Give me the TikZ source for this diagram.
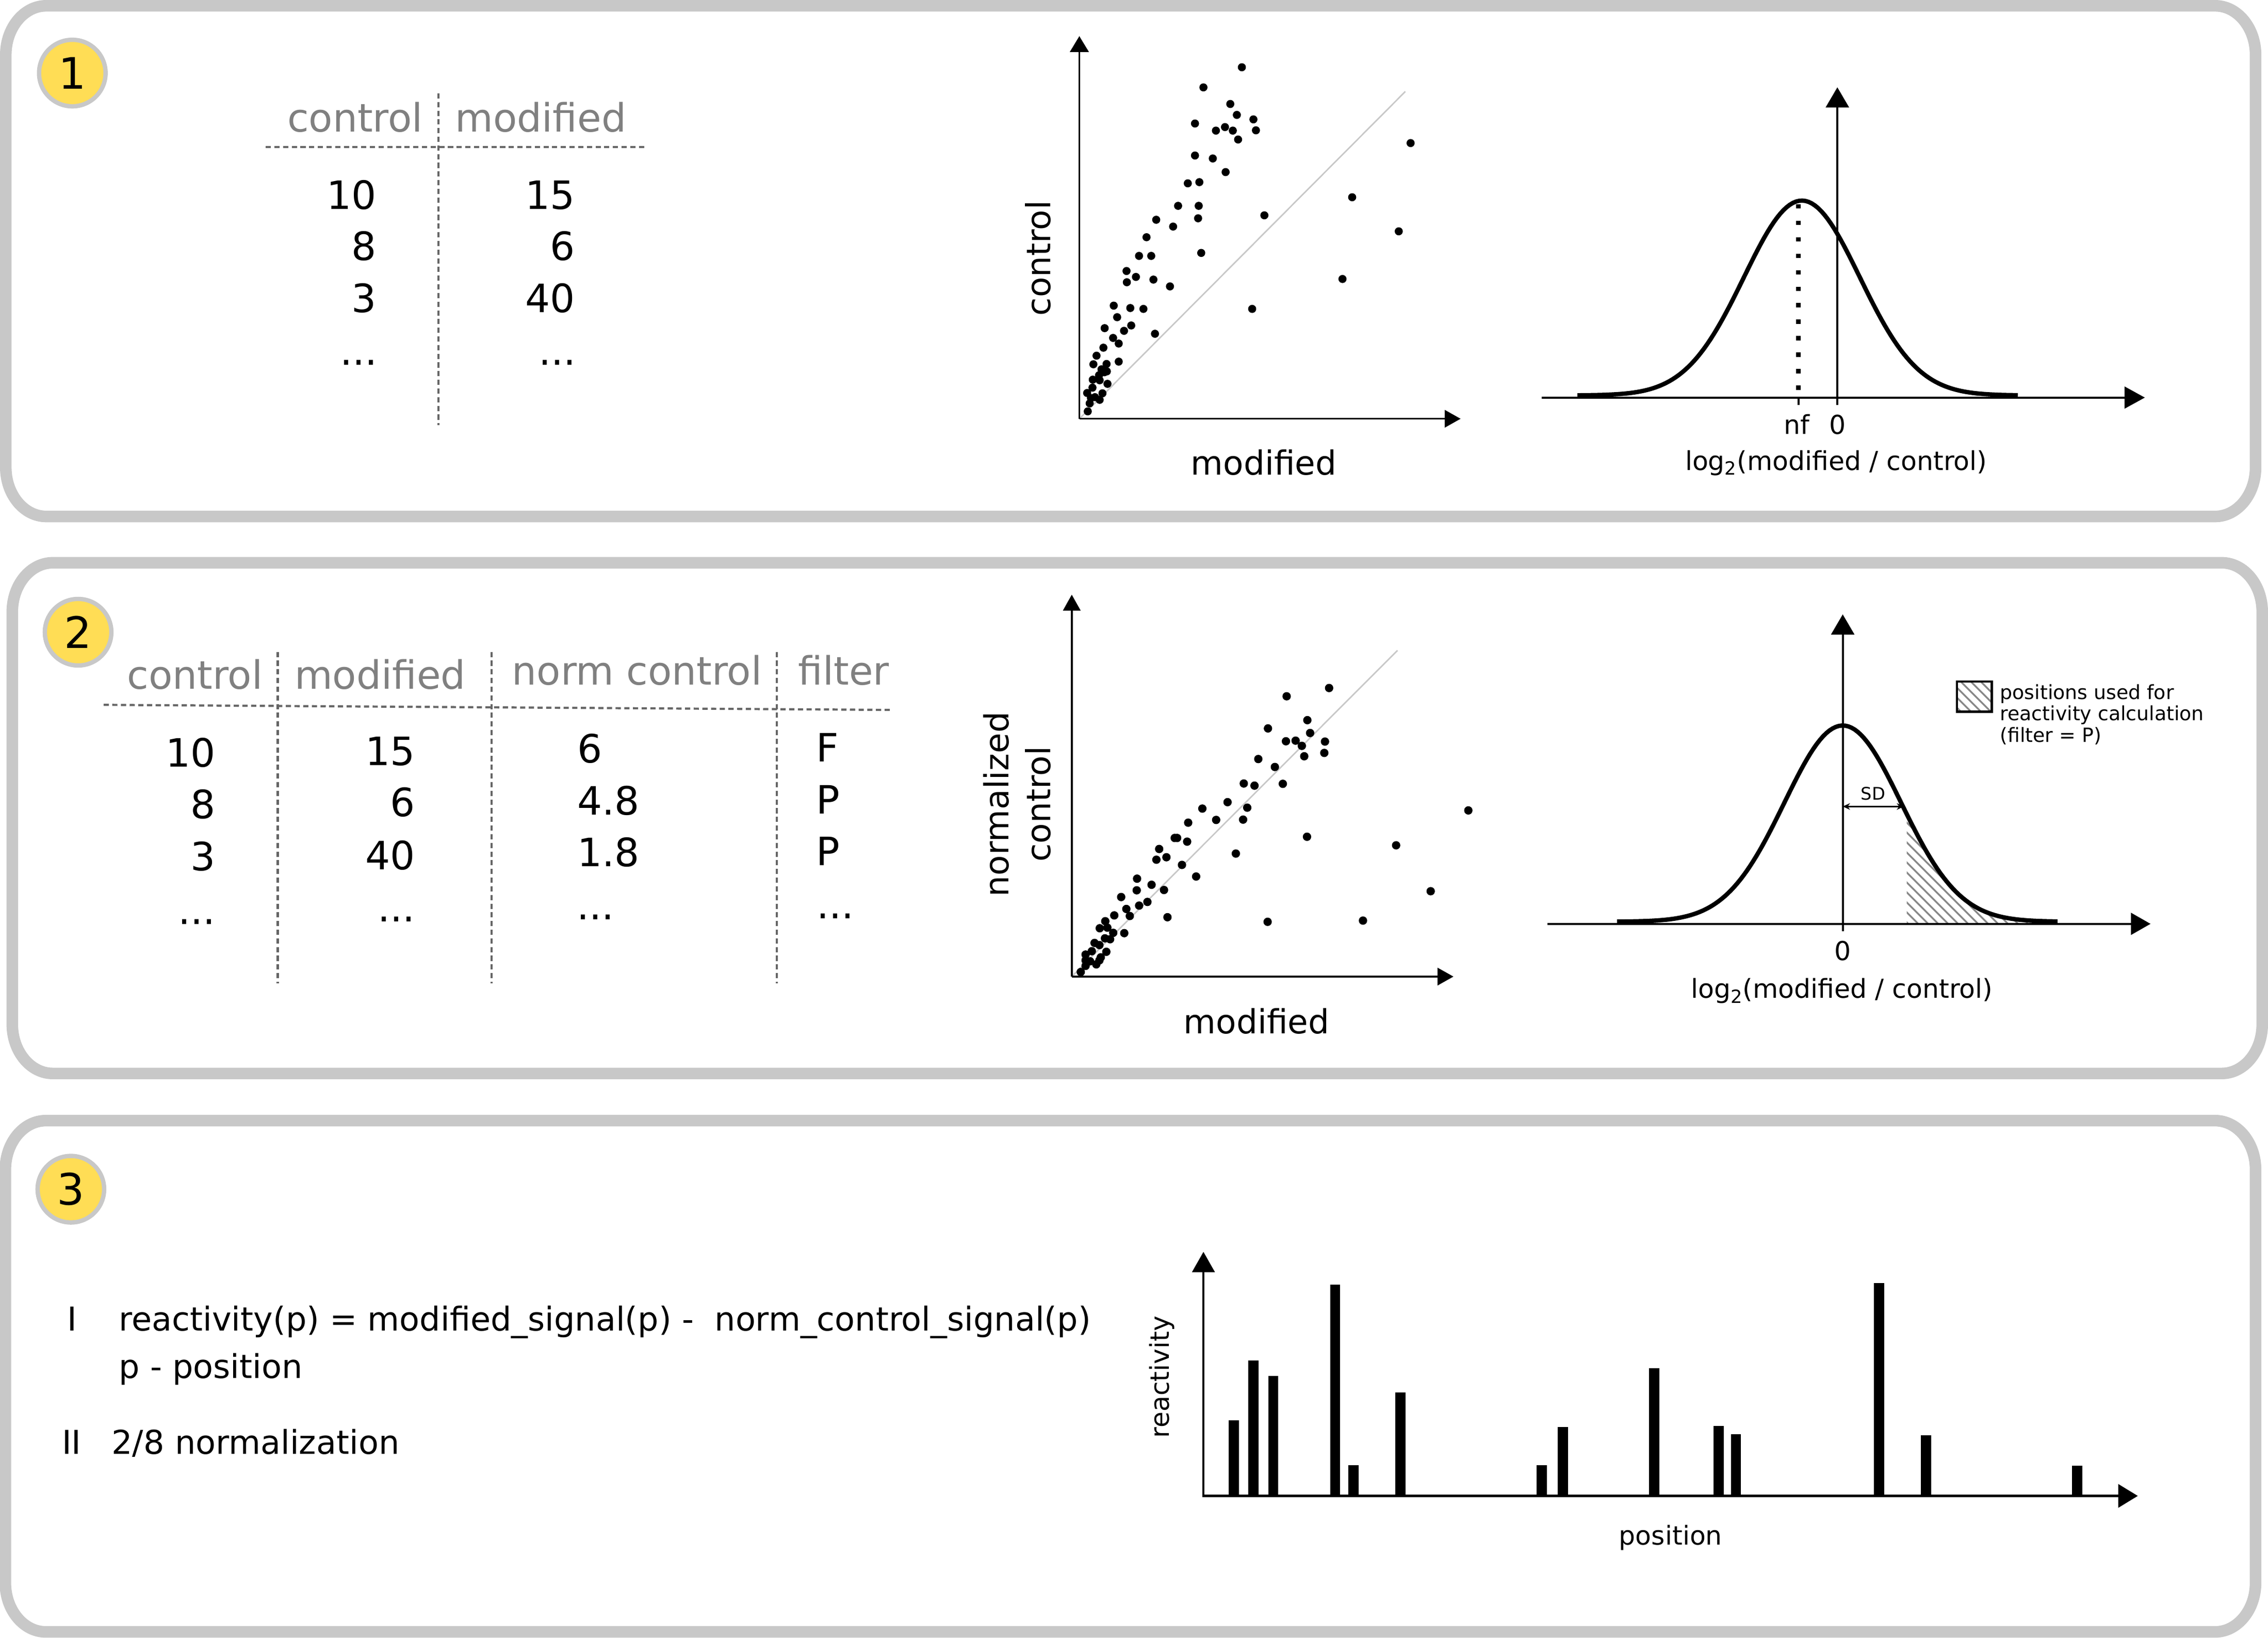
\documentclass[tikz,border=0pt]{standalone}
\usepackage{fontspec}
\setmainfont{DejaVu Sans}
\usetikzlibrary{arrows.meta}
\definecolor{panelgray}{HTML}{C8C8C8}
\definecolor{badgeyellow}{HTML}{FFDD55}
\definecolor{headgray}{HTML}{808080}
\definecolor{rulegray}{HTML}{666666}
\definecolor{hatchgray}{HTML}{888888}
\newcommand\fz[1]{\fontsize{#1pt}{#1pt}\selectfont}
\newcommand\panelbox[4]{%
  \draw[panel] (#1+28,#2) -- (#3-28,#2) arc[start angle=90,end angle=0,x radius=28pt,y radius=34pt]
   -- (#3,#4-34) arc[start angle=0,end angle=-90,x radius=28pt,y radius=34pt]
   -- (#1+28,#4) arc[start angle=-90,end angle=-180,x radius=28pt,y radius=34pt]
   -- (#1,#2+34) arc[start angle=180,end angle=90,x radius=28pt,y radius=34pt] -- cycle;}
\tikzset{
  panel/.style={draw=panelgray, line width=8pt},
  badge/.style={circle, draw=panelgray, line width=3pt, fill=badgeyellow, minimum size=46pt, inner sep=0pt, font={\fz{30}}},
  hdr/.style={text=headgray, font={\fz{27}}, inner sep=0pt},
  num/.style={font={\fz{27}}, inner sep=0pt},
  tabrule/.style={draw=rulegray, line width=1.5pt, dash pattern=on 3.6pt off 2.4pt},
  axisline/.style={line width=1.2pt},
  diag/.style={draw=panelgray, line width=1pt},
  curve/.style={line width=3pt},
  hatch/.style={draw=hatchgray, line width=1.2pt},
  lab/.style={font={\fz{23}}, inner sep=0pt},
  glab/.style={font={\fz{18}}, inner sep=0pt},
  leg/.style={font={\fz{13.5}}, inner sep=0pt, anchor=base west},
  txt/.style={font={\fz{22.7}}, inner sep=0pt},
}
\begin{document}
\begin{tikzpicture}[x=1pt,y=-1pt]
\useasboundingbox (0,0) rectangle (1568,1132);
\fill[white] (0,0) rectangle (1568,1132);

% ---------- panels ----------
\panelbox{4}{4}{1559.4}{357}
\panelbox{8.5}{389}{1564}{742}
\panelbox{3.7}{774.6}{1559.4}{1128}

% ---------- badges ----------
\node[badge] (b1) at (50,50.5) {1};
\node[badge] (b2) at (54,437) {2};
\node[badge] (b3) at (49,822) {3};

% ---------- panel 1 table ----------
\node[hdr, anchor=base west] (t1hc) at (198.5,91) {control};
\node[hdr, anchor=base west] (t1hm) at (314.6,91) {modified};
\draw[tabrule] (183.7,101.6) -- (447,101.6);
\draw[tabrule] (303,64.5) -- (303,294);
\node[num, anchor=base east] (t1c1) at (260.4,144.7) {10};
\node[num, anchor=base east] (t1c2) at (260.4,180) {8};
\node[num, anchor=base east] (t1c3) at (260.4,215.9) {3};
\node[num, anchor=base east] (t1c4) at (261,252.3) {...};
\node[num, anchor=base east] (t1m1) at (397.8,144.7) {15};
\node[num, anchor=base east] (t1m2) at (397.8,180) {6};
\node[num, anchor=base east] (t1m3) at (397.8,215.9) {40};
\node[num, anchor=base east] (t1m4) at (398.5,252.3) {...};

% ---------- panel 1 scatter ----------
\begin{scope}[xshift=695.43pt, yshift=-17.83pt, x=0.21607pt, y=-0.2047pt]
  \draw[diag] (235,1327) -- (1278,222);
  \draw[axisline, -{Triangle[length=11pt,width=13pt]}] (235,1327) -- (235,35);
  \draw[axisline, -{Triangle[length=11pt,width=12pt]}] (235,1327) -- (1455,1327);
  \foreach \px/\py in {755/140, 632/208, 718/264, 739/301, 792/316, 605/330, 701/342, 726/354, 672/354, 800/353, 743/384, 1295/396, 605/438, 662/448, 703/494, 582/532, 619/528, 551/608, 617/608, 1108/579, 827/640, 481/655, 615/650, 535/678, 1257/694, 450/714, 426/777, 465/777, 625/767, 386/828, 416/848, 472/857, 387/866, 525/880, 1077/855, 345/945, 398/953, 440/956, 788/956, 356/984, 316/1021, 401/1012, 378/1030, 477/1040, 343/1054, 361/1073, 312/1087, 290/1114, 361/1134, 280/1143, 322/1142, 306/1160, 323/1167, 278/1195, 300/1197, 325/1209, 277/1222, 309/1241, 260/1240, 300/1263, 272/1257, 268/1275, 262/1302, 285/1254, 298/1180, 315/1170}
    \fill (\px,\py) circle[radius=2.8pt];
\end{scope}
\node[lab, rotate=90, anchor=base] (s1y) at (726.1,178.5) {control};
\node[lab, anchor=base] (s1x) at (873.7,328.4) {modified};

% ---------- panel 1 gaussian ----------
\begin{scope}[xshift=1052.07pt, yshift=-46.36pt, x=0.29566pt, y=-0.1865pt]
  \draw[curve] plot[domain=130:1160, samples=140] (\x, {1217-722*exp(-((\x-655)/135.5)^2/2)});
  \draw[line width=3pt, dash pattern=on 3pt off 8.4pt] (647,508) -- (647,1225);
  \draw[line width=1.4pt] (647,1225) -- (647,1253);
  \draw[line width=1.4pt, -{Triangle[length=14pt,width=15pt]}] (47,1225) -- (1457,1225);
  \draw[line width=1.4pt, -{Triangle[length=14pt,width=16pt]}] (738,1252) -- (738,75);
  \node[glab, anchor=base] (g1nf) at (643,1360) {nf};
  \node[glab, anchor=base] (g1z) at (738,1360) {0};
  \node[glab, anchor=base] (g1x) at (735,1494) {log\textsubscript{2}(modified / control)};
\end{scope}

% ---------- panel 2 table ----------
\node[hdr, anchor=base west] (t2h1) at (87.8,476.1) {control};
\node[hdr, anchor=base west] (t2h2) at (203.5,476.1) {modified};
\node[hdr, anchor=base west] (t2h3) at (353.8,473.3) {norm control};
\node[hdr, anchor=base west] (t2h4) at (551.7,473.3) {filter};
\draw[tabrule] (71.6,487.2) -- (615.3,490.7);
\draw[tabrule] (192,450.6) -- (192,679.8);
\draw[tabrule] (339.8,450.6) -- (339.8,679.8);
\draw[tabrule] (537.1,450.6) -- (537.1,679.8);
\node[num, anchor=base east] (t2a1) at (149.2,530.2) {10};
\node[num, anchor=base east] (t2a2) at (149.2,565.7) {8};
\node[num, anchor=base east] (t2a3) at (149.2,601.6) {3};
\node[num, anchor=base east] (t2a4) at (149,638.7) {...};
\node[num, anchor=base east] (t2b1) at (287.2,529) {15};
\node[num, anchor=base east] (t2b2) at (287.2,564.5) {6};
\node[num, anchor=base east] (t2b3) at (287.2,600.9) {40};
\node[num, anchor=base east] (t2b4) at (287,636.9) {...};
\node[num, anchor=base west] (t2c1) at (399,527.1) {6};
\node[num, anchor=base west] (t2c2) at (399,563.3) {4.8};
\node[num, anchor=base west] (t2c3) at (399,599) {1.8};
\node[num, anchor=base west] (t2c4) at (398.5,635.7) {...};
\node[num, anchor=base west] (t2d1) at (564.3,526.7) {F};
\node[num, anchor=base west] (t2d2) at (564.3,562.6) {P};
\node[num, anchor=base west] (t2d3) at (564.3,598.1) {P};
\node[num, anchor=base west] (t2d4) at (564.5,635) {...};

% ---------- panel 2 scatter ----------
\begin{scope}[xshift=659.77pt, yshift=-399.43pt, x=0.23881pt, y=-0.21152pt]
  \draw[diag] (340,1303) -- (1283,237);
  \draw[axisline, -{Triangle[length=11pt,width=12pt]}] (340,1303) -- (340,55);
  \draw[axisline, -{Triangle[length=11pt,width=12pt]}] (340,1303) -- (1445,1303);
  \foreach \px/\py in {1085/360, 962/387, 1022/465, 908/492, 1030/507, 960/534, 988/532, 1006/549, 1073/535, 1013/583, 1071/572, 880/592, 928/618, 838/672, 869/679, 951/673, 791/733, 718/754, 848/751, 758/791, 836/790, 677/800, 1488/760, 638/850, 674/862, 1021/846, 593/886, 614/913, 585/921, 815/901, 1279/874, 659/938, 529/983, 700/976, 571/1003, 528/1021, 607/1020, 1379/1024, 483/1043, 559/1059, 535/1071, 498/1082, 463/1103, 508/1105, 617/1109, 907/1124, 1183/1120, 437/1122, 421/1145, 443/1143, 460/1160, 492/1161, 436/1178, 451/1181, 406/1193, 420/1200, 398/1220, 440/1222, 380/1231, 424/1240, 380/1250, 393/1253, 380/1268, 411/1263, 366/1288, 420/1250, 645/850}
    \fill (\px,\py) circle[radius=2.9pt];
\end{scope}
\node[lab, rotate=90, anchor=base] (s2y1) at (697.5,555.9) {normalized};
\node[lab, rotate=90, anchor=base] (s2y2) at (726.2,555.9) {control};
\node[lab, anchor=base] (s2x) at (868.7,714.3) {modified};

% ---------- panel 2 gaussian ----------
\begin{scope}[xshift=1052.07pt, yshift=-410.13pt, x=0.31388pt, y=-0.1865pt]
  \begin{scope}
    \clip (848,1226) -- plot[domain=848:1180, samples=80] (\x, {1217-727*exp(-((\x-707)/128.6)^2/2)}) -- (1180,1226) -- cycle;
    \begin{scope}[xshift=-1052.07pt, yshift=410.13pt, x=1pt, y=-1pt]
      \foreach \c in {660,666.9,...,880} \draw[hatch] (\c+540,540) -- (\c+660,660);
    \end{scope}
  \end{scope}
  \draw[curve] plot[domain=210:1180, samples=140] (\x, {1217-727*exp(-((\x-707)/128.6)^2/2)});
  \draw[line width=1.4pt, -{Triangle[length=13.5pt,width=15pt]}] (57,1225) -- (1385,1225);
  \draw[line width=1.4pt, -{Triangle[length=14pt,width=16pt]}] (707,1252) -- (707,78);
  \draw[line width=1pt, {Stealth[length=5pt,width=4.5pt]}-{Stealth[length=5pt,width=4.5pt]}] (707,790) -- (842,790);
  \node[glab, anchor=base] (g2z) at (707,1360) {0};
  \node[glab, anchor=base] (g2x) at (705,1500) {log\textsubscript{2}(modified / control)};
\end{scope}
\node[font={\fz{12}}, inner sep=0pt, anchor=base] (sd) at (1295,553) {SD};
% legend
\begin{scope}
  \clip (1353,471) rectangle (1377,492);
  \foreach \c in {850,856.9,...,920} \draw[hatch] (\c+460,460) -- (\c+500,500);
\end{scope}
\draw[line width=1.6pt] (1353,471) rectangle (1377,492);
\node[leg] (l1) at (1382.6,483.2) {positions used for};
\node[leg] (l2) at (1382.6,498.1) {reactivity calculation};
\node[leg] (l3) at (1382.6,513) {(filter = P)};

% ---------- panel 3 text ----------
\node[txt, anchor=base] (rI) at (50,920) {I};
\node[txt, anchor=base west] (req) at (82,920) {reactivity(p) = modified\_signal(p) -~~norm\_control\_signal(p)};
\node[txt, anchor=base west] (ppos) at (82,952.5) {p - position};
\node[txt, anchor=base] (rII) at (49.5,1005) {II};
\node[txt, anchor=base west] (rnorm) at (77,1005) {2/8 normalization};

% ---------- panel 3 bar chart ----------
\foreach \bx/\by in {853/981.8, 866.6/940.4, 880.3/951.1, 923/888, 935.8/1012.6, 968.1/962.6, 1065.9/1012.6, 1080.4/986.4, 1143.7/945.6, 1188.2/985.8, 1200.1/991.3, 1299.2/887, 1331.5/991.9, 1436.1/1013.2}
  \fill (\bx-3.5,\by) rectangle (\bx+3.5,1034);
\draw[line width=1.4pt, -{Triangle[length=14pt,width=15.5pt]}] (832,1034) -- (832,865.3);
\draw[line width=2pt, -{Triangle[length=13.6pt,width=16pt]}] (831.3,1034) -- (1478,1034);
\node[font={\fz{18}}, inner sep=0pt, rotate=90] (rlab) at (803.4,951.8) {reactivity};
\node[font={\fz{18}}, inner sep=0pt, anchor=base] (plab) at (1155,1068) {position};
\end{tikzpicture}
\end{document}
